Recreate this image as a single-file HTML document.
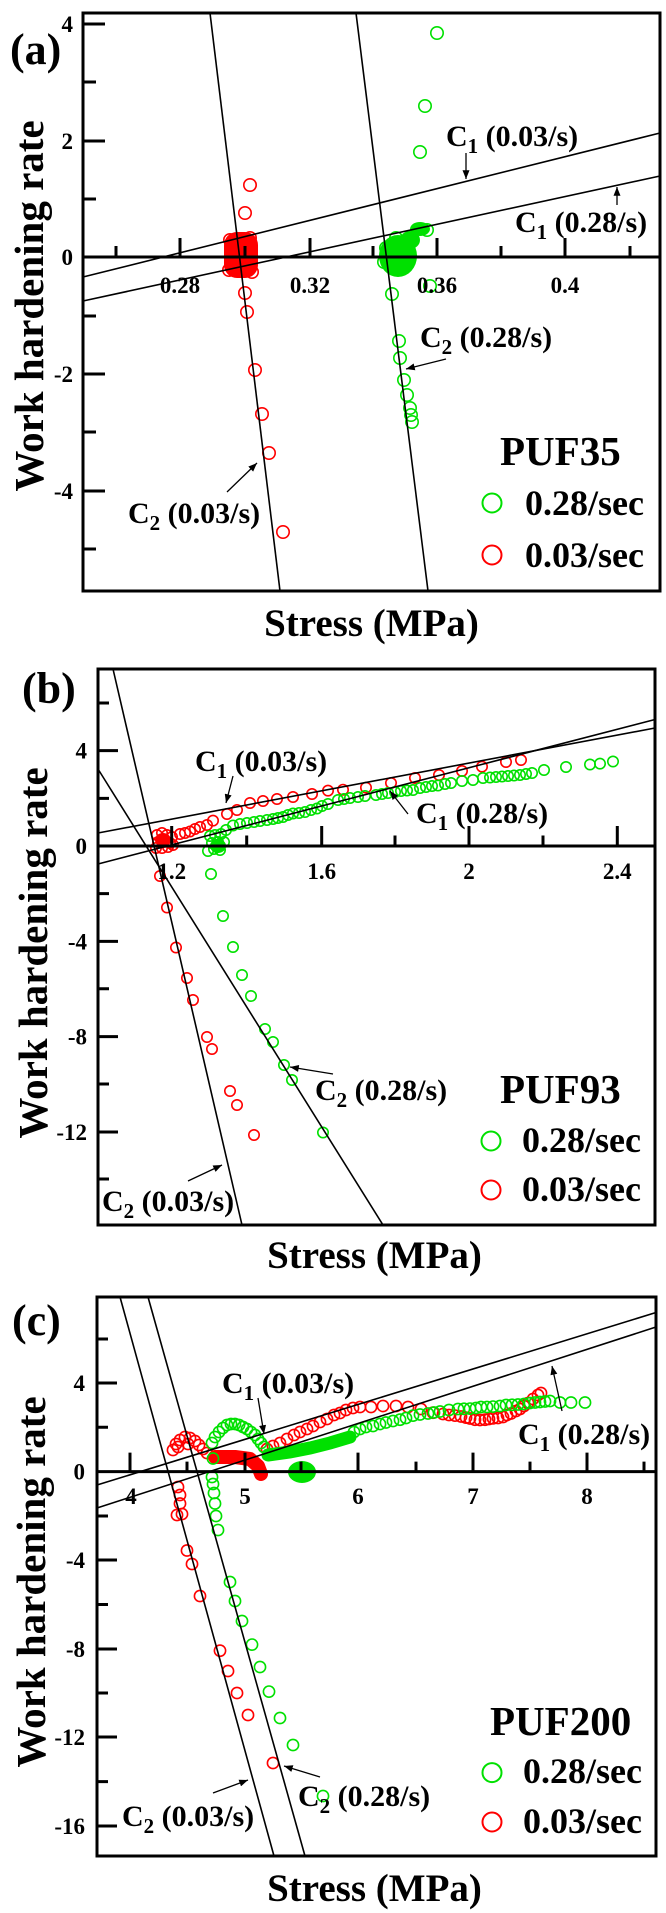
<!DOCTYPE html>
<html><head><meta charset="utf-8"><style>
html,body{margin:0;padding:0;background:#fff;}
svg{display:block;}
.fr{fill:none;stroke:#000;stroke-width:3}
.tk{stroke:#000;stroke-width:3;fill:none}
.fl{stroke:#000;stroke-width:1.6}
.ar{stroke:#000;stroke-width:1.3;marker-end:url(#ah)}
.r circle{fill:none;stroke:#ff0000;stroke-width:1.6}
.g circle{fill:none;stroke:#00e000;stroke-width:1.6}
svg, text, tspan{font-family:"Liberation Serif","Times New Roman","DejaVu Serif","Noto Serif CJK SC",serif !important;font-weight:bold}
text{fill:#000}
.tly{font-size:23px;text-anchor:end}
.tlx{font-size:23px;text-anchor:middle}
.ann{font-size:30px}
.leg{font-size:36px}
.puf{font-size:41px}
.ax{font-size:39px;text-anchor:middle}
.yl{font-size:41px;text-anchor:middle}
.pl{font-size:44px}
</style></head><body>
<svg width="666" height="1913" viewBox="0 0 666 1913" xmlns="http://www.w3.org/2000/svg" font-family="Liberation Serif, Times New Roman, DejaVu Serif, serif" font-weight="bold">
<defs>
<marker id="ah" viewBox="0 0 10 8" refX="10" refY="4" markerWidth="9" markerHeight="7" markerUnits="userSpaceOnUse" orient="auto"><path d="M0,0 L10,4 L0,8 z" fill="#000"/></marker>
</defs>
<rect width="666" height="1913" fill="#fff"/>

<!-- ================= PANEL (a) ================= -->
<text class="pl" x="10" y="64">(a)</text>
<text class="yl" transform="translate(43,306) rotate(-90)">Work hardening rate</text>
<text class="ax" x="371.5" y="636">Stress (MPa)</text>

<rect x="224" y="232" width="34" height="46" rx="13" fill="#ff0000"/>
<g class="r">
<circle cx="230" cy="240" r="6.2"/><circle cx="250" cy="238" r="6.2"/><circle cx="229" cy="270" r="6.2"/><circle cx="252" cy="272" r="6.2"/>
<circle cx="250" cy="185" r="6.2"/><circle cx="245" cy="213" r="6.2"/><circle cx="245" cy="293" r="6.2"/><circle cx="247" cy="312" r="6.2"/>
<circle cx="255" cy="370" r="6.2"/><circle cx="262" cy="414" r="6.2"/><circle cx="269" cy="453" r="6.2"/><circle cx="283" cy="532" r="6.2"/>
</g>
<ellipse cx="398" cy="256" rx="19" ry="21" fill="#00e000"/>
<ellipse cx="410" cy="240" rx="10" ry="9" fill="#00e000"/>
<ellipse cx="420" cy="229" rx="10" ry="7" fill="#00e000"/>
<g class="g">
<circle cx="384" cy="262" r="6.2"/><circle cx="386" cy="248" r="6.2"/><circle cx="396" cy="238" r="6.2"/><circle cx="427" cy="230" r="6.2"/>
<circle cx="437" cy="33" r="6.2"/><circle cx="425" cy="106" r="6.2"/><circle cx="420" cy="152" r="6.2"/>
<circle cx="392" cy="294" r="6.2"/><circle cx="430" cy="286" r="6.2"/>
<circle cx="399" cy="341" r="6.2"/><circle cx="400" cy="358" r="6.2"/><circle cx="404" cy="380" r="6.2"/><circle cx="407" cy="395" r="6.2"/>
<circle cx="410" cy="408" r="6.2"/><circle cx="411" cy="415" r="6.2"/><circle cx="412" cy="422" r="6.2"/>
</g>
<line class="fl" x1="210" y1="13" x2="280" y2="591"/>
<line class="fl" x1="356" y1="13" x2="428" y2="591"/>
<line class="fl" x1="83" y1="277" x2="660" y2="133"/>
<line class="fl" x1="83" y1="301" x2="660" y2="176"/>
<rect class="fr" x="83" y="13" width="577" height="578"/>
<line class="tk" x1="83" y1="257" x2="660" y2="257"/>
<path class="tk" d="M83,24h22M83,141h22M83,374h22M83,491h22M83,82h13M83,199h13M83,316h13M83,432h13M83,549h13"/>
<path class="tk" d="M180,257v-19M310,257v-19M437,257v-19M565,257v-19M116,257v-11M245,257v-11M373,257v-11M501,257v-11M630,257v-11"/>
<text class="tly" x="73" y="32">4</text>
<text class="tly" x="73" y="149">2</text>
<text class="tly" x="73" y="265">0</text>
<text class="tly" x="73" y="382">-2</text>
<text class="tly" x="73" y="499">-4</text>
<text class="tlx" x="180" y="293">0.28</text>
<text class="tlx" x="310" y="293">0.32</text>
<text class="tlx" x="437" y="293">0.36</text>
<text class="tlx" x="565" y="293">0.4</text>
<text class="ann" x="446" y="146">C<tspan font-size="21" dy="7">1</tspan><tspan dy="-7">&#160;(0.03/s)</tspan></text>
<line class="ar" x1="466" y1="153" x2="466" y2="179"/>
<text class="ann" x="515" y="232">C<tspan font-size="21" dy="7">1</tspan><tspan dy="-7">&#160;(0.28/s)</tspan></text>
<line class="ar" x1="617" y1="205" x2="617" y2="187"/>
<text class="ann" x="420" y="347">C<tspan font-size="21" dy="7">2</tspan><tspan dy="-7">&#160;(0.28/s)</tspan></text>
<line class="ar" x1="446" y1="359" x2="406" y2="369"/>
<text class="ann" x="128" y="523">C<tspan font-size="21" dy="7">2</tspan><tspan dy="-7">&#160;(0.03/s)</tspan></text>
<line class="ar" x1="227" y1="492" x2="257" y2="463"/>
<text class="puf" x="500" y="465">PUF35</text>
<circle cx="492" cy="503" r="9.5" fill="none" stroke="#00e000" stroke-width="2"/>
<text class="leg" x="525" y="515">0.28/sec</text>
<circle cx="492" cy="555" r="9.5" fill="none" stroke="#ff0000" stroke-width="2"/>
<text class="leg" x="525" y="567">0.03/sec</text>

<!-- ================= PANEL (b) ================= -->
<text class="pl" x="22" y="703">(b)</text>
<text class="yl" transform="translate(47,953) rotate(-90)">Work hardening rate</text>
<text class="ax" x="374.5" y="1268">Stress (MPa)</text>

<ellipse cx="163" cy="840" rx="8" ry="7" fill="#ff0000"/>
<g class="r">
<circle cx="157" cy="835" r="5.2"/><circle cx="162" cy="833" r="5.2"/><circle cx="167" cy="835" r="5.2"/><circle cx="172" cy="837" r="5.2"/>
<circle cx="158" cy="842" r="5.2"/><circle cx="164" cy="842" r="5.2"/><circle cx="170" cy="843" r="5.2"/><circle cx="156" cy="848" r="5.2"/>
<circle cx="162" cy="848" r="5.2"/><circle cx="168" cy="847" r="5.2"/><circle cx="173" cy="845" r="5.2"/>
<circle cx="180" cy="834" r="5.2"/><circle cx="185" cy="833" r="5.2"/><circle cx="190" cy="831.5" r="5.2"/><circle cx="195" cy="829" r="5.2"/><circle cx="200" cy="827" r="5.2"/><circle cx="207" cy="825" r="5.2"/>
<circle cx="213" cy="820.6" r="5.2"/><circle cx="227" cy="814" r="5.2"/><circle cx="237" cy="810" r="5.2"/><circle cx="250" cy="803" r="5.2"/>
<circle cx="263" cy="801" r="5.2"/><circle cx="277" cy="799" r="5.2"/><circle cx="293" cy="797" r="5.2"/><circle cx="312" cy="794" r="5.2"/>
<circle cx="328" cy="790.6" r="5.2"/><circle cx="343" cy="789.7" r="5.2"/><circle cx="366" cy="787.6" r="5.2"/><circle cx="391" cy="783" r="5.2"/>
<circle cx="415" cy="778" r="5.2"/><circle cx="439" cy="775" r="5.2"/><circle cx="462" cy="771" r="5.2"/><circle cx="482" cy="766.6" r="5.2"/>
<circle cx="506" cy="762" r="5.2"/><circle cx="521" cy="760" r="5.2"/>
<circle cx="160" cy="876" r="5.2"/><circle cx="167" cy="907.5" r="5.2"/><circle cx="176" cy="947.5" r="5.2"/><circle cx="187" cy="978" r="5.2"/>
<circle cx="193" cy="1000" r="5.2"/><circle cx="207" cy="1037" r="5.2"/><circle cx="212" cy="1049" r="5.2"/><circle cx="230" cy="1091" r="5.2"/>
<circle cx="237" cy="1105" r="5.2"/><circle cx="254" cy="1135" r="5.2"/>
</g>
<ellipse cx="218" cy="846" rx="8" ry="7" fill="#00e000"/>
<g class="g">
<circle cx="208" cy="851" r="5.2"/><circle cx="214" cy="849" r="5.2"/><circle cx="220" cy="850" r="5.2"/><circle cx="212" cy="843" r="5.2"/>
<circle cx="218" cy="842" r="5.2"/><circle cx="224" cy="842" r="5.2"/><circle cx="215" cy="835" r="5.2"/><circle cx="221" cy="834" r="5.2"/>
<circle cx="226" cy="830" r="5.2"/><circle cx="210" cy="836" r="5.2"/>
<circle cx="211" cy="874" r="5.2"/><circle cx="223" cy="916" r="5.2"/><circle cx="233" cy="947" r="5.2"/><circle cx="242" cy="975" r="5.2"/>
<circle cx="251" cy="996" r="5.2"/><circle cx="265" cy="1029" r="5.2"/><circle cx="273" cy="1042" r="5.2"/><circle cx="284" cy="1065" r="5.2"/>
<circle cx="292" cy="1080" r="5.2"/><circle cx="323" cy="1132.5" r="5.2"/>
<circle cx="233" cy="825.5" r="5.2"/><circle cx="240" cy="824" r="5.2"/><circle cx="247" cy="823" r="5.2"/><circle cx="254" cy="822" r="5.2"/>
<circle cx="260" cy="821" r="5.2"/><circle cx="267" cy="820" r="5.2"/><circle cx="273" cy="819" r="5.2"/><circle cx="278" cy="818" r="5.2"/>
<circle cx="283" cy="817" r="5.2"/><circle cx="288" cy="815" r="5.2"/><circle cx="293" cy="813.5" r="5.2"/><circle cx="299" cy="813" r="5.2"/>
<circle cx="305" cy="812" r="5.2"/><circle cx="311" cy="810" r="5.2"/><circle cx="317" cy="808.5" r="5.2"/><circle cx="322" cy="806" r="5.2"/>
<circle cx="328" cy="804" r="5.2"/><circle cx="338" cy="800" r="5.2"/><circle cx="344" cy="799" r="5.2"/><circle cx="350" cy="798" r="5.2"/>
<circle cx="358" cy="797" r="5.2"/><circle cx="365" cy="796" r="5.2"/><circle cx="376" cy="795" r="5.2"/><circle cx="382" cy="794" r="5.2"/>
<circle cx="388" cy="793" r="5.2"/><circle cx="395" cy="792" r="5.2"/><circle cx="401" cy="791" r="5.2"/><circle cx="407" cy="790.5" r="5.2"/>
<circle cx="413" cy="790" r="5.2"/><circle cx="420" cy="788" r="5.2"/><circle cx="426" cy="787" r="5.2"/><circle cx="432" cy="786" r="5.2"/>
<circle cx="438" cy="785.5" r="5.2"/><circle cx="445" cy="784" r="5.2"/><circle cx="451" cy="783" r="5.2"/><circle cx="462" cy="781" r="5.2"/>
<circle cx="473" cy="780" r="5.2"/><circle cx="483" cy="778" r="5.2"/><circle cx="490" cy="777.5" r="5.2"/><circle cx="496" cy="777" r="5.2"/>
<circle cx="502" cy="776.5" r="5.2"/><circle cx="508" cy="776" r="5.2"/><circle cx="514" cy="775.5" r="5.2"/><circle cx="520" cy="775" r="5.2"/>
<circle cx="526" cy="774" r="5.2"/><circle cx="532" cy="773" r="5.2"/><circle cx="544" cy="770" r="5.2"/><circle cx="566" cy="767" r="5.2"/>
<circle cx="590" cy="764.5" r="5.2"/><circle cx="600" cy="763.6" r="5.2"/><circle cx="613" cy="761.5" r="5.2"/>
</g>
<line class="fl" x1="113" y1="669" x2="242" y2="1225"/>
<line class="fl" x1="98" y1="769" x2="383" y2="1225"/>
<line class="fl" x1="98" y1="833" x2="655" y2="728"/>
<line class="fl" x1="98" y1="864" x2="655" y2="719.5"/>
<rect class="fr" x="98" y="669" width="557" height="556"/>
<line class="tk" x1="98" y1="846" x2="655" y2="846"/>
<path class="tk" d="M98,750.6h20M98,941.4h20M98,1036.6h20M98,1132h20M98,703h11M98,798.4h11M98,893.6h11M98,988.8h11M98,1084h11M98,1179h11"/>
<path class="tk" d="M171.7,846v-20M321.7,846v-20M469,846v-20M617.3,846v-20M246.7,846v-10.5M395,846v-10.5M543,846v-10.5"/>
<text class="tly" x="87" y="758.6">4</text>
<text class="tly" x="87" y="854">0</text>
<text class="tly" x="87" y="949.4">-4</text>
<text class="tly" x="87" y="1044.6">-8</text>
<text class="tly" x="87" y="1140">-12</text>
<text class="tlx" x="171.7" y="879">1.2</text>
<text class="tlx" x="321.7" y="879">1.6</text>
<text class="tlx" x="469" y="879">2</text>
<text class="tlx" x="617.3" y="879">2.4</text>
<text class="ann" x="195" y="771">C<tspan font-size="21" dy="7">1</tspan><tspan dy="-7">&#160;(0.03/s)</tspan></text>
<line class="ar" x1="233" y1="776" x2="226" y2="803"/>
<text class="ann" x="416" y="823">C<tspan font-size="21" dy="7">1</tspan><tspan dy="-7">&#160;(0.28/s)</tspan></text>
<line class="ar" x1="408" y1="814" x2="390" y2="791"/>
<text class="ann" x="315" y="1100">C<tspan font-size="21" dy="7">2</tspan><tspan dy="-7">&#160;(0.28/s)</tspan></text>
<line class="ar" x1="333" y1="1074" x2="290" y2="1067"/>
<text class="ann" x="102" y="1211">C<tspan font-size="21" dy="7">2</tspan><tspan dy="-7">&#160;(0.03/s)</tspan></text>
<line class="ar" x1="188" y1="1181" x2="222" y2="1165"/>
<text class="puf" x="500" y="1103">PUF93</text>
<circle cx="491" cy="1141" r="9.5" fill="none" stroke="#00e000" stroke-width="2"/>
<text class="leg" x="522" y="1152">0.28/sec</text>
<circle cx="491" cy="1190" r="9.5" fill="none" stroke="#ff0000" stroke-width="2"/>
<text class="leg" x="522" y="1201">0.03/sec</text>

<!-- ================= PANEL (c) ================= -->
<text class="pl" x="12" y="1335">(c)</text>
<text class="yl" transform="translate(45,1582) rotate(-90)">Work hardening rate</text>
<text class="ax" x="374.5" y="1901">Stress (MPa)</text>

<!-- red (c) -->
<polyline points="215,1457 235,1457 250,1459 258,1466 261,1474" fill="none" stroke="#ff0000" stroke-width="14" stroke-linecap="round" stroke-linejoin="round"/>
<g class="r">
<circle cx="173" cy="1450" r="5.6"/><circle cx="176" cy="1444" r="5.6"/><circle cx="180" cy="1440" r="5.6"/><circle cx="185" cy="1437" r="5.6"/>
<circle cx="190" cy="1438" r="5.6"/><circle cx="195" cy="1441" r="5.6"/><circle cx="199" cy="1445" r="5.6"/><circle cx="203" cy="1449" r="5.6"/>
<circle cx="207" cy="1453" r="5.6"/><circle cx="178" cy="1447" r="5.6"/><circle cx="188" cy="1444" r="5.6"/>
<circle cx="267" cy="1449" r="5.6"/><circle cx="273" cy="1446" r="5.6"/><circle cx="280" cy="1443" r="5.6"/><circle cx="287" cy="1439" r="5.6"/>
<circle cx="294" cy="1435" r="5.6"/><circle cx="300" cy="1432" r="5.6"/><circle cx="307" cy="1429" r="5.6"/><circle cx="313" cy="1426" r="5.6"/>
<circle cx="320" cy="1422" r="5.6"/><circle cx="327" cy="1419" r="5.6"/><circle cx="334" cy="1415" r="5.6"/><circle cx="340" cy="1413" r="5.6"/>
<circle cx="346" cy="1410" r="5.6"/><circle cx="353" cy="1408" r="5.6"/><circle cx="360" cy="1407" r="5.6"/><circle cx="371" cy="1407" r="5.6"/>
<circle cx="383" cy="1406" r="5.6"/><circle cx="396" cy="1406" r="5.6"/><circle cx="408" cy="1407" r="5.6"/><circle cx="421" cy="1409" r="5.6"/>
<circle cx="433" cy="1412.7" r="5.6"/><circle cx="443" cy="1414" r="5.6"/><circle cx="449" cy="1415" r="5.6"/><circle cx="455" cy="1415.6" r="5.6"/>
<circle cx="461" cy="1416.5" r="5.6"/><circle cx="466" cy="1417.6" r="5.6"/><circle cx="470" cy="1418.5" r="5.6"/><circle cx="475" cy="1419.7" r="5.6"/>
<circle cx="480" cy="1420" r="5.6"/><circle cx="485" cy="1419.7" r="5.6"/><circle cx="489" cy="1419" r="5.6"/><circle cx="493" cy="1418.4" r="5.6"/>
<circle cx="498" cy="1418" r="5.6"/><circle cx="503" cy="1417" r="5.6"/><circle cx="507" cy="1415" r="5.6"/><circle cx="511" cy="1413.5" r="5.6"/>
<circle cx="516" cy="1411" r="5.6"/><circle cx="520" cy="1409" r="5.6"/><circle cx="524" cy="1406" r="5.6"/><circle cx="528" cy="1403" r="5.6"/>
<circle cx="533" cy="1399" r="5.6"/><circle cx="538" cy="1395" r="5.6"/><circle cx="541" cy="1393" r="5.6"/>
<circle cx="178" cy="1487" r="5.6"/><circle cx="180" cy="1495" r="5.6"/><circle cx="180" cy="1503.5" r="5.6"/><circle cx="177" cy="1515" r="5.6"/>
<circle cx="182" cy="1514" r="5.6"/><circle cx="187" cy="1550.5" r="5.6"/><circle cx="192" cy="1564" r="5.6"/><circle cx="200" cy="1596" r="5.6"/>
<circle cx="220" cy="1650.7" r="5.6"/><circle cx="228" cy="1671" r="5.6"/><circle cx="237" cy="1693" r="5.6"/><circle cx="248" cy="1715" r="5.6"/>
<circle cx="273" cy="1763" r="5.6"/>
</g>
<!-- green (c) -->
<ellipse cx="302" cy="1472" rx="14" ry="11" fill="#00e000"/>
<polyline points="268,1455 290,1452 310,1448 330,1443 350,1437" fill="none" stroke="#00e000" stroke-width="13" stroke-linecap="round"/>
<g class="g">
<circle cx="212" cy="1443" r="5.6"/><circle cx="215" cy="1437" r="5.6"/><circle cx="219" cy="1432" r="5.6"/><circle cx="223" cy="1428" r="5.6"/>
<circle cx="227" cy="1425" r="5.6"/><circle cx="231" cy="1424" r="5.6"/><circle cx="235" cy="1424" r="5.6"/><circle cx="239" cy="1425" r="5.6"/>
<circle cx="243" cy="1427" r="5.6"/><circle cx="247" cy="1429" r="5.6"/><circle cx="251" cy="1432" r="5.6"/><circle cx="255" cy="1435" r="5.6"/>
<circle cx="258" cy="1439" r="5.6"/><circle cx="261" cy="1443" r="5.6"/><circle cx="264" cy="1447" r="5.6"/>
<circle cx="213" cy="1458.5" r="5.6" stroke="#3a8a3a"/>
<circle cx="212" cy="1477" r="5.6"/><circle cx="213" cy="1484" r="5.6"/><circle cx="214" cy="1493" r="5.6"/><circle cx="215" cy="1503.5" r="5.6"/>
<circle cx="216" cy="1516" r="5.6"/><circle cx="218" cy="1530" r="5.6"/><circle cx="230" cy="1582" r="5.6"/><circle cx="235" cy="1601" r="5.6"/>
<circle cx="242" cy="1621" r="5.6"/><circle cx="252" cy="1644.6" r="5.6"/><circle cx="260" cy="1667" r="5.6"/><circle cx="269" cy="1691.6" r="5.6"/>
<circle cx="280" cy="1718" r="5.6"/><circle cx="293" cy="1745" r="5.6"/><circle cx="323" cy="1796" r="5.6"/>
<circle cx="354" cy="1432" r="5.6"/><circle cx="360" cy="1429" r="5.6"/><circle cx="366" cy="1427" r="5.6"/><circle cx="373" cy="1426" r="5.6"/>
<circle cx="380" cy="1424" r="5.6"/><circle cx="386" cy="1422.5" r="5.6"/><circle cx="393" cy="1421" r="5.6"/><circle cx="400" cy="1419.7" r="5.6"/>
<circle cx="406" cy="1418" r="5.6"/><circle cx="413" cy="1415.6" r="5.6"/><circle cx="420" cy="1414.5" r="5.6"/><circle cx="428" cy="1413.5" r="5.6"/>
<circle cx="434" cy="1412.5" r="5.6"/><circle cx="440" cy="1411.5" r="5.6"/><circle cx="449" cy="1410" r="5.6"/><circle cx="458" cy="1409" r="5.6"/>
<circle cx="464" cy="1408.8" r="5.6"/><circle cx="470" cy="1408.6" r="5.6"/><circle cx="476" cy="1408" r="5.6"/><circle cx="481" cy="1407" r="5.6"/>
<circle cx="487" cy="1407" r="5.6"/><circle cx="493" cy="1406.6" r="5.6"/><circle cx="500" cy="1406" r="5.6"/><circle cx="506" cy="1405" r="5.6"/>
<circle cx="512" cy="1404.8" r="5.6"/><circle cx="518" cy="1404.5" r="5.6"/><circle cx="524" cy="1404" r="5.6"/><circle cx="530" cy="1403" r="5.6"/>
<circle cx="535" cy="1402.5" r="5.6"/><circle cx="540" cy="1402" r="5.6"/><circle cx="545" cy="1401.5" r="5.6"/><circle cx="550" cy="1401" r="5.6"/>
<circle cx="560" cy="1402.5" r="5.6"/><circle cx="571" cy="1402.5" r="5.6"/><circle cx="585" cy="1402.5" r="5.6"/>
</g>
<line class="fl" x1="120" y1="1297" x2="274" y2="1856"/>
<line class="fl" x1="148" y1="1297" x2="305" y2="1856"/>
<line class="fl" x1="97" y1="1485" x2="656" y2="1312.5"/>
<line class="fl" x1="97" y1="1508" x2="656" y2="1327"/>
<rect class="fr" x="97" y="1297" width="559" height="559"/>
<line class="tk" x1="97" y1="1471.6" x2="656" y2="1471.6"/>
<path class="tk" d="M97,1383h20M97,1560h20M97,1649h20M97,1737h20M97,1826h20M97,1339h11M97,1427.3h11M97,1516h11M97,1604.5h11M97,1693h11M97,1781.6h11"/>
<path class="tk" d="M130,1471.6v-19M245,1471.6v-19M358,1471.6v-19M473,1471.6v-19M587,1471.6v-19M187,1471.6v-10M301,1471.6v-10M416,1471.6v-10M530,1471.6v-10M644,1471.6v-10"/>
<text class="tly" x="85" y="1391">4</text>
<text class="tly" x="85" y="1479.6">0</text>
<text class="tly" x="85" y="1568">-4</text>
<text class="tly" x="85" y="1657">-8</text>
<text class="tly" x="85" y="1745">-12</text>
<text class="tly" x="85" y="1834">-16</text>
<text class="tlx" x="131" y="1504">4</text>
<text class="tlx" x="245" y="1504">5</text>
<text class="tlx" x="358" y="1504">6</text>
<text class="tlx" x="473" y="1504">7</text>
<text class="tlx" x="587" y="1504">8</text>
<text class="ann" x="222" y="1393">C<tspan font-size="21" dy="7">1</tspan><tspan dy="-7">&#160;(0.03/s)</tspan></text>
<line class="ar" x1="258" y1="1398" x2="264" y2="1434"/>
<text class="ann" x="518" y="1444">C<tspan font-size="21" dy="7">1</tspan><tspan dy="-7">&#160;(0.28/s)</tspan></text>
<line class="ar" x1="562" y1="1411" x2="552" y2="1366"/>
<text class="ann" x="298" y="1806">C<tspan font-size="21" dy="7">2</tspan><tspan dy="-7">&#160;(0.28/s)</tspan></text>
<line class="ar" x1="320" y1="1777" x2="284" y2="1766"/>
<text class="ann" x="122" y="1826">C<tspan font-size="21" dy="7">2</tspan><tspan dy="-7">&#160;(0.03/s)</tspan></text>
<line class="ar" x1="213" y1="1793" x2="248" y2="1780"/>
<text class="puf" x="490" y="1735">PUF200</text>
<circle cx="492" cy="1772.6" r="9.5" fill="none" stroke="#00e000" stroke-width="2"/>
<text class="leg" x="523" y="1783">0.28/sec</text>
<circle cx="492" cy="1822" r="9.5" fill="none" stroke="#ff0000" stroke-width="2"/>
<text class="leg" x="523" y="1833">0.03/sec</text>
</svg>
</body></html>
